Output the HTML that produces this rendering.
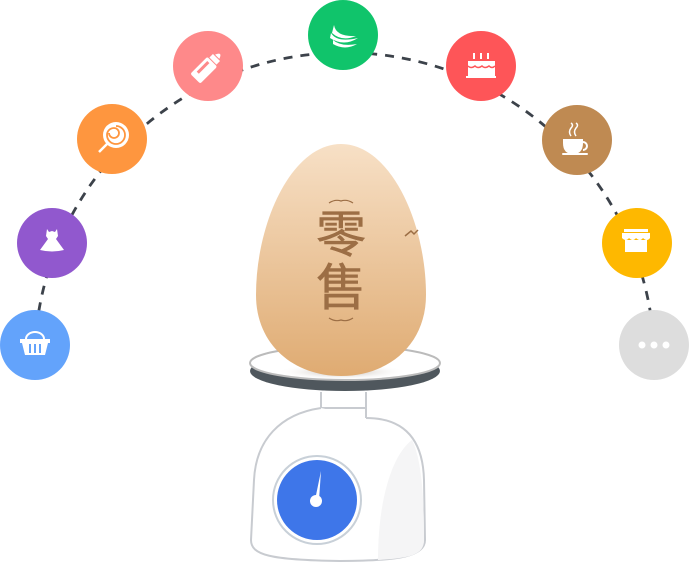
<!DOCTYPE html>
<html><head><meta charset="utf-8"><style>
html,body{margin:0;padding:0;background:#fff;}
svg{display:block;}
</style></head><body>
<svg width="690" height="565" viewBox="0 0 690 565" xmlns="http://www.w3.org/2000/svg">
<defs>
<linearGradient id="egg" x1="0" y1="0" x2="0" y2="1">
<stop offset="0" stop-color="#f7e0c6"/><stop offset="1" stop-color="#dfab72"/>
</linearGradient>
<radialGradient id="sh" cx="0.5" cy="0.5" r="0.5">
<stop offset="0" stop-color="#8a7a6a" stop-opacity="0.6"/><stop offset="1" stop-color="#fff" stop-opacity="0"/>
</radialGradient>
</defs>
<path d="M35,345 A310,310 0 0 1 654,345" fill="none" stroke="#3c424a" stroke-width="2.8" stroke-dasharray="9,8"/>
<circle cx="35" cy="345" r="35" fill="#63a3fb"/>
<circle cx="52" cy="243" r="35" fill="#9158ce"/>
<circle cx="112" cy="139" r="35" fill="#fe963f"/>
<circle cx="208" cy="66" r="35" fill="#fe898a"/>
<circle cx="343" cy="35" r="35" fill="#10c46b"/>
<circle cx="481" cy="66" r="35" fill="#fe5558"/>
<circle cx="577" cy="140" r="35" fill="#bf8a52"/>
<circle cx="637" cy="243" r="35" fill="#feb800"/>
<circle cx="654" cy="345" r="35" fill="#dddddd"/>
<g fill="#fff">
 <path d="M20,339 h30 v4 h-2 l-3,12 h-20 l-3,-12 h-2z"/>
 <path d="M26,339 a9,7 0 0 1 18,0" fill="none" stroke="#fff" stroke-width="2"/>
 <rect x="29" y="344" width="2" height="9" fill="#63a3fb"/><rect x="34" y="344" width="2" height="9" fill="#63a3fb"/><rect x="39" y="344" width="2" height="9" fill="#63a3fb"/>
 <path d="M47,229 l2,3 l3,-1 l3,1 l2,-3 l1,7 l-2,3 l8,11 q-12,3 -24,0 l8,-11 l-2,-3z"/>
 <circle cx="116" cy="135" r="13"/>
 <path d="M116,126 a9,9 0 1 1 -9,9 a7,7 0 0 1 7,-7 a5,5 0 1 1 -5,5" fill="none" stroke="#fe963f" stroke-width="1.8"/>
 <line x1="107" y1="144" x2="99" y2="152" stroke="#fff" stroke-width="2.5"/>
 <g transform="rotate(45 208 66)"><rect x="201" y="60" width="14" height="24" rx="2"/><rect x="203" y="54" width="10" height="5"/><path d="M205,53 q3,-8 6,0z"/><rect x="204" y="63" width="3" height="15" fill="#fe898a"/></g>
 <path d="M334,25 q2,12 22,11 q-14,6 -24,-3z"/><path d="M331,33 q6,10 27,5 q-14,9 -28,0z"/><path d="M333,40 q8,7 24,4 q-12,7 -24,0z"/>
 <rect x="468" y="61" width="27" height="15"/><rect x="466" y="76" width="30" height="2"/>
 <rect x="473" y="53" width="2" height="6"/><rect x="480" y="53" width="2" height="6"/><rect x="487" y="53" width="2" height="6"/>
 <path d="M468,66 q3,3 7,0 q3,3 7,0 q3,3 7,0 q3,3 6,0" fill="none" stroke="#fe5558" stroke-width="1.5"/>
 <path d="M563,139 h20 v4 q0,11 -10,11 q-10,0 -10,-11z"/>
 <path d="M583,142 a4,4 0 0 1 0,8" fill="none" stroke="#fff" stroke-width="2"/>
 <rect x="562" y="153" width="26" height="2" rx="1"/>
 <path d="M571,136 q-3,-4 0,-8 q3,-3 0,-5 M576,136 q-3,-4 0,-8 q3,-3 0,-5" fill="none" stroke="#fff" stroke-width="1.5"/>
 <rect x="624" y="229" width="24" height="3"/><path d="M622,233 h28 v5 q-3,4 -7,0 q-3,4 -7,0 q-3,4 -7,0 q-3,4 -7,0z"/>
 <rect x="625" y="240" width="22" height="12"/>
 <circle cx="642" cy="345" r="3.5"/><circle cx="654" cy="345" r="3.5"/><circle cx="666" cy="345" r="3.5"/>
</g>
<!-- plate -->
<ellipse cx="345" cy="371" rx="95" ry="20" fill="#4f575d"/>
<ellipse cx="345" cy="363" rx="95" ry="17" fill="#fff" stroke="#bbb" stroke-width="2"/>
<ellipse cx="342" cy="372" rx="65" ry="8" fill="url(#sh)"/>
<!-- egg -->
<path d="M341,144 C390,144 426,222 426,295 C426,345 388,376 341,376 C294,376 256,345 256,295 C256,222 292,144 341,144Z" fill="url(#egg)"/>
<text x="341" y="252" font-family="'Liberation Sans','Noto Sans CJK SC',sans-serif" font-size="50" fill="#9c6e45" text-anchor="middle" stroke="#9c6e45" stroke-width="0.6">零</text>
<text x="341" y="305" font-family="'Liberation Sans','Noto Sans CJK SC',sans-serif" font-size="50" fill="#9c6e45" text-anchor="middle" stroke="#9c6e45" stroke-width="0.6">售</text>
<path d="M329,203 q6,-4 12,-2 q6,-2 12,2 M329,318 q6,4 12,2 q6,2 12,-2" fill="none" stroke="#9c6e45" stroke-width="1.2"/>
<path d="M405,236 l6,-5 l3,3 l4,-4" fill="none" stroke="#9c6e45" stroke-width="1.5"/>
<!-- scale neck -->
<path d="M321,392 v16 h45 v10" fill="none" stroke="#c8cbd0" stroke-width="2"/>
<!-- scale body -->
<path d="M321,408 C280,414 256,440 254,480 L251,540 C251,555 270,560 340,561 C400,561 425,556 425,540 L424,480 C423,440 405,418 366,418" fill="#fff" stroke="#c8cbd0" stroke-width="2"/>
<path d="M321,392 v16 M366,392 v26" stroke="#c8cbd0" stroke-width="2"/>
<path d="M378,560 C378,500 392,455 412,440 C422,460 424,500 424,540 C424,555 410,558 378,560Z" fill="#f5f5f6"/>
<circle cx="317" cy="500" r="44" fill="#fff" stroke="#c8d0d8" stroke-width="2"/>
<circle cx="317" cy="500" r="40" fill="#3e76e9"/>
<path d="M315,500 L321,471 L319,500Z" fill="#fff"/>
<circle cx="316" cy="501" r="6" fill="#fff"/>
</svg>
</body></html>
